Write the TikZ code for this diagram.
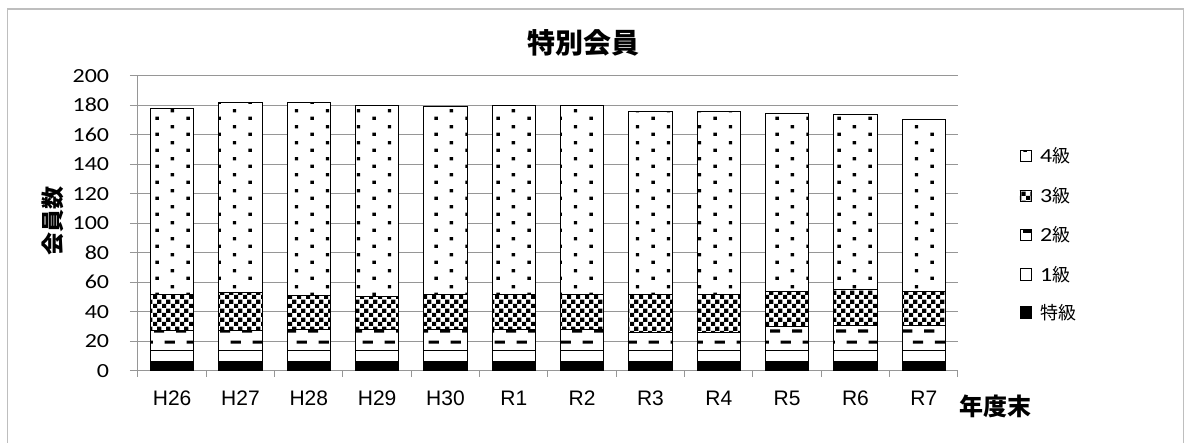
\documentclass[tikz,border=0pt]{standalone}
\usepackage{fontspec}
\usepackage{tikz}
\usetikzlibrary{positioning}
\usetikzlibrary{patterns}
\usetikzlibrary{patterns.meta}
\newfontfamily\cjk{Noto Sans CJK JP}
\newfontfamily\numfont[FakeStretch=1.2]{Carlito}
\newfontfamily\catfont{Liberation Sans}
\definecolor{gridgray}{RGB}{150,150,150}
\definecolor{framegray}{RGB}{190,190,190}
\tikzdeclarepattern{
  name=kyudots,
  tile size={(31pt,16pt)},
  bottom left={(0pt,0pt)},
  top right={(31pt,16pt)},
  code={
    \fill (0.5pt,3.2pt) rectangle (4pt,6.7pt);
    \fill (16pt,11.2pt) rectangle (19.5pt,14.7pt);
  }
}
\tikzdeclarepattern{
  name=kyuchk,
  tile size={(9pt,9pt)},
  bottom left={(0pt,0pt)},
  top right={(9pt,9pt)},
  code={
    \fill (0pt,0pt) rectangle (4.5pt,4.5pt);
    \fill (4.5pt,4.5pt) rectangle (9pt,9pt);
  }
}
\tikzdeclarepattern{
  name=kyudash,
  tile size={(22pt,22pt)},
  bottom left={(0pt,0pt)},
  top right={(22pt,22pt)},
  code={
    \fill (0pt,0.5pt) rectangle (10.5pt,3.8pt);
    \fill (11pt,11.5pt) rectangle (21.5pt,14.8pt);
  }
}
\tikzset{
  seg/.style = {draw = black, line width = 0.9pt, preaction = {fill = white}},
  gridline/.style = {draw = gridgray, line width = 1pt},
  ticklab/.style = {anchor = east, inner sep = 0, font = \numfont\fontsize{20}{24}\selectfont},
  catlab/.style = {inner sep = 0, font = \catfont\fontsize{21}{24}\selectfont},
  legbox/.style = {draw = black, line width = 0.7pt, minimum size = 11.7pt, inner sep = 0},
  legtext/.style = {inner sep = 0, right = 8pt of #1}
}

\begin{document}
\begin{tikzpicture}[x=1pt, y=1pt]
      \def\ys{1.475}
      \useasboundingbox (-138,-72.3) rectangle (1046,370.7);
      \draw[framegray, line width = 1.5pt] (-130.5,-72.3) -- (-130.5,361.7) -- (1045.5,361.7) -- (1045.5,-72.3);

      \node[font = \cjk\bfseries\fontsize{28}{32}\selectfont] (title) at (445,327.7) {特別会員};

      \foreach \v in {20,40,...,200} \draw[gridline] (-8,{\v*\ys}) -- (820,{\v*\ys});
      \foreach \v in {0,20,...,200} \node[ticklab] (y\v) at (-28.7,{\v*\ys}) {\v};
      \draw[gridline] (-8,0) -- (820,0);
      \draw[gridline] (0,-2.5) -- (0,{200*\ys});
      \foreach \i in {0,...,12} \draw[gridline] ({68.33*\i},0) -- ({68.33*\i},-6.5);

      \foreach \lab/\sa/\sb/\sc [count=\i] in {H26/27/52/177.5, H27/27/53/182, H28/28/51/182, H29/28/50/180, H30/28/52/179, R1/28/52/180, R2/28/52/180, R3/26/52/176, R4/26/52/176, R5/30/54/174.5, R6/31/55/174, R7/31/54/170.5} {
        \pgfmathsetmacro\xl{68.33*(\i-1)+12.5}
        \pgfmathsetmacro\xr{\xl+43.3}
        \draw[seg, fill = black] (\xl,0) rectangle (\xr,{6*\ys});
        \draw[seg, fill = white] (\xl,{6*\ys}) rectangle (\xr,{14*\ys});
        \draw[seg, pattern = kyudash] (\xl,{14*\ys}) rectangle (\xr,{\sa*\ys});
        \draw[seg, pattern = kyuchk] (\xl,{\sa*\ys}) rectangle (\xr,{\sb*\ys});
        \draw[seg, pattern = kyudots] (\xl,{\sb*\ys}) rectangle (\xr,{\sc*\ys});
        \node[catlab] (c\i) at ({\xl+21.65},-27.3) {\lab};
      }

      \node[font = \cjk\bfseries\fontsize{23}{26}\selectfont, rotate = 90] (ylab) at (-85,149.7) {会員数};
      \node[font = \cjk\bfseries\fontsize{24}{26}\selectfont] (xlab) at (857,-35.3) {年度末};

      \node[legbox, pattern = kyudots] (b4) at (887.8,214.7) {};
      \node[legbox, pattern = kyuchk] (b3) at (887.8,174.7) {};
      \node[legbox, pattern = kyudash] (b2) at (887.8,135.7) {};
      \node[legbox, fill = white] (b1) at (887.8,96.4) {};
      \node[legbox, fill = black] (b0) at (887.8,58.4) {};
      \node[legtext = b4] (l4) {\numfont\fontsize{20}{24}\selectfont 4\cjk\fontsize{18}{22}\selectfont 級};
      \node[legtext = b3] (l3) {\numfont\fontsize{20}{24}\selectfont 3\cjk\fontsize{18}{22}\selectfont 級};
      \node[legtext = b2] (l2) {\numfont\fontsize{20}{24}\selectfont 2\cjk\fontsize{18}{22}\selectfont 級};
      \node[legtext = b1] (l1) {\numfont\fontsize{20}{24}\selectfont 1\cjk\fontsize{18}{22}\selectfont 級};
      \node[legtext = b0] (l0) {\cjk\fontsize{18}{22}\selectfont 特級};
    \end{tikzpicture}
\end{document}
